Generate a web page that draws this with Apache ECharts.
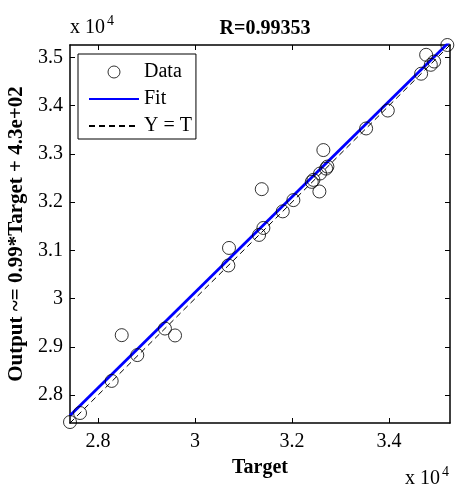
<!DOCTYPE html>
<html>
<head>
<meta charset="utf-8">
<script src="https://cdn.jsdelivr.net/npm/echarts@6/dist/echarts.min.js"></script>
<style>
html,body{margin:0;padding:0;background:#fff;}
#chart{width:457px;height:497px;}
</style>
</head>
<body>
<div id="chart"></div>
<script>
// ---- data ----
var targets = [27423, 27630, 28282, 28489, 28810, 29380, 29588, 30687, 30700, 31320, 31375, 31409, 31808, 32027, 32406, 32440, 32563, 32577, 32645, 32701, 32728, 33526, 33973, 34660, 34763, 34860, 34928, 35200];
var outputs = [27443, 27630, 28295, 29243, 28830, 29380, 29237, 30687, 31050, 31320, 32268, 31464, 31808, 32041, 32419, 32460, 32220, 32592, 33078, 32694, 32736, 33526, 33897, 34660, 35052, 34845, 34913, 35255];
var axisMin = 27423;
var axisMax = 35255;
var fitSlope = 0.99;
var fitIntercept = 430;
var xTickValues = [28000, 30000, 32000, 34000];
var xTickLabels = ['2.8', '3', '3.2', '3.4'];
var yTickValues = [28000, 29000, 30000, 31000, 32000, 33000, 34000, 35000];
var yTickLabels = ['2.8', '2.9', '3', '3.1', '3.2', '3.3', '3.4', '3.5'];
var titleText = 'R=0.99353';
var xName = 'Target';
var yName = 'Output ~= 0.99*Target + 4.3e+02';
var legendNames = ['Data', 'Fit', 'Y = T'];

var FONT = "'Liberation Serif','Times New Roman',serif";

var scatterData = targets.map(function (t, i) { return [t, outputs[i]]; });
var fitData = [[axisMin, fitSlope * axisMin + fitIntercept], [axisMax, fitSlope * axisMax + fitIntercept]];
var ytData = [[axisMin, axisMin], [axisMax, axisMax]];

function labelFor(values, labels) {
  return function (v) {
    var i = values.indexOf(v);
    return i >= 0 ? labels[i] : '';
  };
}

var axisLineStyle = { color: '#000', width: 1.5 };
var hiddenSym = { opacity: 0, color: 'rgba(0,0,0,0)', borderWidth: 0 };

var chart = echarts.init(document.getElementById('chart'), null, { renderer: 'canvas' });
chart.setOption({
  animation: false,
  backgroundColor: '#fff',
  title: {
    text: titleText,
    left: 260, top: 14, textAlign: 'center',
    textStyle: { fontFamily: FONT, fontSize: 20, fontWeight: 'bold', color: '#000' }
  },
  grid: { left: 70, right: 7, top: 45, bottom: 74, containLabel: false, outerBoundsMode: 'none' },
  legend: {
    data: [
      { name: legendNames[0], itemStyle: { color: 'rgba(0,0,0,0)', borderColor: '#000', borderWidth: 1 } },
      { name: legendNames[1], itemStyle: hiddenSym },
      { name: legendNames[2], itemStyle: hiddenSym }
    ],
    orient: 'vertical',
    left: 78, top: 54,
    padding: [8, 4, 3, 10],
    itemGap: 7,
    itemWidth: 50,
    itemHeight: 12,
    backgroundColor: '#fff',
    borderColor: '#000',
    borderWidth: 1,
    borderRadius: 0,
    textStyle: { fontFamily: FONT, fontSize: 20, color: '#000', lineHeight: 20 }
  },
  xAxis: [{
    type: 'value', min: axisMin, max: axisMax, position: 'bottom',
    name: xName, nameLocation: 'middle', nameGap: 35,
    nameTextStyle: { fontFamily: FONT, fontSize: 20, fontWeight: 'bold', color: '#000' },
    axisLine: { show: true, lineStyle: axisLineStyle },
    axisTick: { show: true, inside: true, length: 5, customValues: xTickValues, lineStyle: { color: '#000', width: 1 } },
    axisLabel: { show: true, customValues: xTickValues, formatter: labelFor(xTickValues, xTickLabels), margin: 9,
      fontFamily: FONT, fontSize: 20, color: '#000' },
    splitLine: { show: false }
  }, {
    type: 'value', min: axisMin, max: axisMax, position: 'top',
    axisLine: { show: true, lineStyle: axisLineStyle },
    axisTick: { show: true, inside: true, length: 5, customValues: xTickValues, lineStyle: { color: '#000', width: 1 } },
    axisLabel: { show: false },
    splitLine: { show: false }
  }],
  yAxis: [{
    type: 'value', min: axisMin, max: axisMax, position: 'left',
    name: yName, nameLocation: 'middle', nameGap: 35, nameRotate: 90,
    nameTextStyle: { fontFamily: FONT, fontSize: 21, fontWeight: 'bold', color: '#000' },
    axisLine: { show: true, lineStyle: axisLineStyle },
    axisTick: { show: true, inside: true, length: 5, customValues: yTickValues, lineStyle: { color: '#000', width: 1 } },
    axisLabel: { show: true, customValues: yTickValues, formatter: labelFor(yTickValues, yTickLabels), margin: 7,
      fontFamily: FONT, fontSize: 20, color: '#000' },
    splitLine: { show: false }
  }, {
    type: 'value', min: axisMin, max: axisMax, position: 'right',
    axisLine: { show: true, lineStyle: axisLineStyle },
    axisTick: { show: true, inside: true, length: 5, customValues: yTickValues, lineStyle: { color: '#000', width: 1 } },
    axisLabel: { show: false },
    splitLine: { show: false }
  }],
  series: [{
    name: legendNames[0], type: 'scatter', data: scatterData,
    symbol: 'circle', symbolSize: 13, z: 4,
    itemStyle: { color: 'rgba(0,0,0,0)', borderColor: '#000', borderWidth: 1 },
    clip: false
  }, {
    name: legendNames[1], type: 'line', data: fitData, showSymbol: false, symbol: 'none', z: 3,
    itemStyle: { color: '#0000ff' },
    lineStyle: { color: '#0000ff', width: 2.8 },
    clip: true
  }, {
    name: legendNames[2], type: 'line', data: ytData, showSymbol: false, symbol: 'none', z: 2,
    itemStyle: { color: '#000' },
    lineStyle: { color: '#000', width: 1, type: [6, 4] },
    clip: true
  }],
  graphic: [{
    type: 'text', left: 70, top: 14,
    style: {
      text: '{b|x 10}{s|4}',
      rich: {
        b: { fontFamily: FONT, fontSize: 20, fill: '#000', verticalAlign: 'bottom', lineHeight: 24 },
        s: { fontFamily: FONT, fontSize: 14, fill: '#000', verticalAlign: 'top', lineHeight: 24, padding: [0, 0, 10, 2] }
      }
    }
  }, {
    type: 'text', left: 405, top: 465,
    style: {
      text: '{b|x 10}{s|4}',
      rich: {
        b: { fontFamily: FONT, fontSize: 20, fill: '#000', verticalAlign: 'bottom', lineHeight: 24 },
        s: { fontFamily: FONT, fontSize: 14, fill: '#000', verticalAlign: 'top', lineHeight: 24, padding: [0, 0, 10, 2] }
      }
    }
  }]
});
</script>
</body>
</html>
